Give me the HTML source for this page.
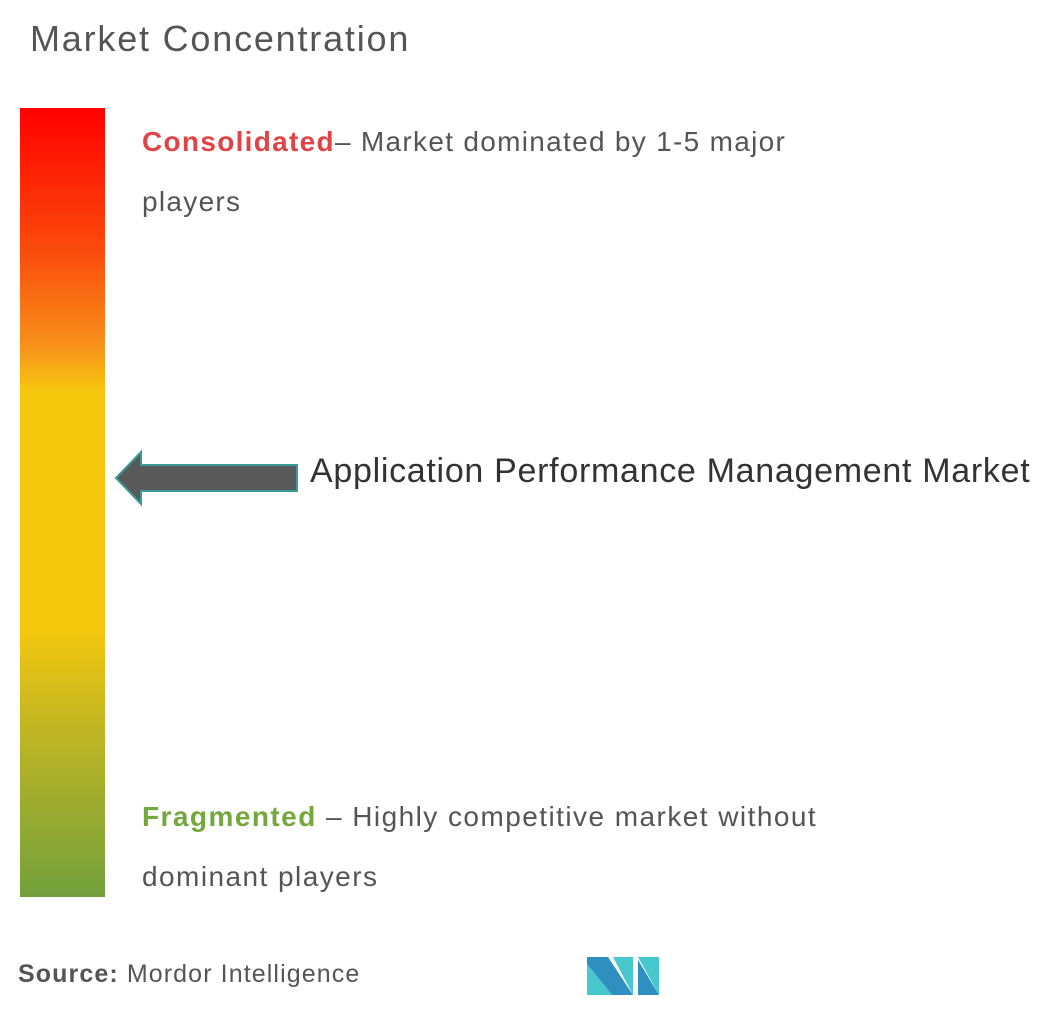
<!DOCTYPE html>
<html><head><style>
body{margin:0;width:1054px;height:1010px;background:#fff;position:relative;font-family:"Liberation Sans",sans-serif;color:#555;overflow:hidden}
.t{position:absolute;white-space:nowrap}
</style></head><body>
<div class="t" style="left:30px;top:18px;font-size:36px;color:#555;letter-spacing:1.8px">Market Concentration</div>
<div style="position:absolute;left:20px;top:108px;width:85px;height:789px;background:linear-gradient(#ff0000 0%,#fb4a0c 18%,#f7901a 30%,#f5c80e 36%,#f5c80e 66%,#c3b722 78%,#72a03c 100%)"></div>
<div class="t" style="left:142px;top:126px;font-size:28px;letter-spacing:1.3px"><b style="color:#e04444">Consolidated</b>– Market dominated by 1-5 major</div>
<div class="t" style="left:142px;top:186px;font-size:28px;letter-spacing:1.3px">players</div>
<div class="t" style="left:142px;top:801px;font-size:28px;letter-spacing:1.45px"><b style="color:#72a83c">Fragmented</b> – Highly competitive market without</div>
<div class="t" style="left:142px;top:861px;font-size:28px;letter-spacing:1.45px">dominant players</div>
<svg style="position:absolute;left:0;top:0" width="1054" height="1010">
<polygon points="116,478 141,452 141,465 297,465 297,491 141,491 141,504" fill="#595959" stroke="#3a9a9a" stroke-width="2"/>
<polygon points="587,957 608,957 633,995 612,995 587,964" fill="#2e8fc0"/>
<polygon points="587,964 612,995 587,995" fill="#46c8cc"/>
<polygon points="613,957 633,957 633,995" fill="#46c8cc"/>
<polygon points="638,957 659,957 659,995" fill="#46c8cc"/>
<polygon points="638,960 659,995 638,995" fill="#2e8fc0"/>
</svg>
<div class="t" style="left:310px;top:452px;font-size:34px;color:#333;letter-spacing:0.7px">Application Performance Management Market</div>
<div class="t" style="left:18px;top:960px;font-size:25px;color:#555;letter-spacing:1.1px"><b>Source:</b> Mordor Intelligence</div>
</body></html>
